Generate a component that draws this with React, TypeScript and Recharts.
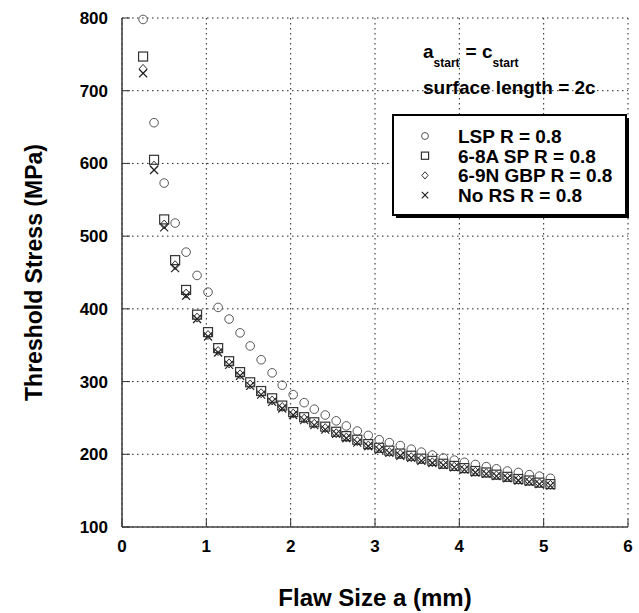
import React from "react";
import {
  ScatterChart,
  Scatter,
  XAxis,
  YAxis,
  CartesianGrid,
} from "recharts";

// flaw size a (mm), shared by every series
const flawSize = [
  0.25, 0.38, 0.5, 0.63, 0.76, 0.89, 1.02, 1.14, 1.27, 1.4, 1.52, 1.65, 1.78,
  1.9, 2.03, 2.16, 2.28, 2.41, 2.54, 2.66, 2.79, 2.92, 3.05, 3.17, 3.3, 3.43,
  3.55, 3.68, 3.81, 3.94, 4.06, 4.19, 4.32, 4.44, 4.57, 4.7, 4.83, 4.95, 5.08,
];

// threshold stress (MPa)
const lsp = [
  798, 656, 573, 518, 478, 446, 423, 402, 386, 367, 349, 330, 312, 295, 282,
  271, 262, 254, 246, 239, 232, 226, 220, 216, 212, 207, 203, 199, 195, 192,
  189, 186, 183, 180, 177, 175, 172, 170, 167,
];
const sp68a = [
  747, 605, 523, 467, 426, 392, 368, 346, 328, 313, 299, 287, 277, 267, 258,
  251, 244, 238, 231, 225, 220, 214, 209, 205, 201, 198, 194, 191, 187, 184,
  181, 177, 175, 172, 169, 166, 164, 161, 159,
];
const gbp69n = [
  730, 597, 516, 460, 421, 388, 364, 342, 325, 310, 296, 284, 274, 265, 256,
  249, 242, 236, 229, 223, 218, 212, 208, 203, 200, 196, 193, 189, 186, 183,
  180, 176, 174, 171, 168, 165, 163, 160, 158,
];
const noRs = [
  724, 591, 512, 456, 418, 386, 362, 340, 323, 308, 294, 282, 272, 263, 254,
  247, 240, 234, 228, 222, 216, 211, 206, 202, 198, 195, 191, 188, 185, 182,
  179, 175, 173, 170, 167, 164, 162, 159, 157,
];

const xTicks = [0, 1, 2, 3, 4, 5, 6];
const yTicks = [100, 200, 300, 400, 500, 600, 700, 800];

const legendItems = [
  { label: "LSP R = 0.8", symbol: "circle" },
  { label: "6-8A SP R = 0.8", symbol: "square" },
  { label: "6-9N GBP R = 0.8", symbol: "diamond" },
  { label: "No RS R = 0.8", symbol: "cross" },
];

const toPoints = (ys: number[]) => flawSize.map((x, i) => ({ x, y: ys[i] }));

const FONT = "'Liberation Sans', Arial, Helvetica, sans-serif";

function Marker({ kind, cx, cy, s = 1 }: { kind: string; cx: number; cy: number; s?: number }) {
  if (kind === "circle")
    return <circle cx={cx} cy={cy} r={4.3 * s} fill="none" stroke="#555" strokeWidth={1} />;
  if (kind === "square")
    return (
      <rect x={cx - 4.5 * s} y={cy - 4.5 * s} width={9 * s} height={9 * s} fill="#fff" stroke="#333" strokeWidth={1.2} />
    );
  if (kind === "diamond")
    return (
      <polygon
        points={`${cx},${cy - 4.5 * s} ${cx + 4 * s},${cy} ${cx},${cy + 4.5 * s} ${cx - 4 * s},${cy}`}
        fill="none"
        stroke="#333"
        strokeWidth={1}
      />
    );
  return (
    <g stroke="#222" strokeWidth={1.2}>
      <line x1={cx - 4 * s} y1={cy - 4 * s} x2={cx + 4 * s} y2={cy + 4 * s} />
      <line x1={cx - 4 * s} y1={cy + 4 * s} x2={cx + 4 * s} y2={cy - 4 * s} />
    </g>
  );
}

const shapeOf = (kind: string) => (p: any) => <Marker kind={kind} cx={p.cx} cy={p.cy} />;

export default function App() {
  const tickStyle = { fontSize: 17, fontWeight: "bold", fill: "#000", fontFamily: FONT };
  const axisLine = { stroke: "#444", strokeWidth: 1.6 };
  return (
    <div style={{ position: "absolute", left: 0, top: 0, width: 639, height: 613, background: "#fff" }}>
      <ScatterChart
        width={639}
        height={613}
        margin={{ top: 18, right: 11, bottom: 0, left: 0 }}
        style={{ fontFamily: FONT }}
      >
        <CartesianGrid stroke="#222" strokeDasharray="1.5 3.5" />
        <XAxis
          type="number"
          dataKey="x"
          domain={[0, 6]}
          ticks={xTicks}
          height={86}
          tickSize={-8}
          tickMargin={21}
          tick={tickStyle}
          axisLine={axisLine}
          tickLine={{ stroke: "#333" }}
          label={{
            content: (props: any) => {
              const vb = props.viewBox;
              return (
                <text
                  x={vb.x + vb.width / 2}
                  y={vb.y + 79}
                  textAnchor="middle"
                  fontSize={24}
                  fontWeight="bold"
                  fontFamily={FONT}
                  fill="#000"
                >
                  Flaw Size a (mm)
                </text>
              );
            },
          }}
        />
        <XAxis
          xAxisId="top"
          orientation="top"
          type="number"
          domain={[0, 6]}
          ticks={xTicks}
          height={0}
          tickSize={-8}
          tick={false}
          axisLine={axisLine}
          tickLine={{ stroke: "#333" }}
        />
        <YAxis
          type="number"
          dataKey="y"
          domain={[100, 800]}
          ticks={yTicks}
          width={122}
          tickSize={-8}
          tickMargin={22}
          tick={tickStyle}
          axisLine={axisLine}
          tickLine={{ stroke: "#333" }}
          label={{
            content: (props: any) => {
              const vb = props.viewBox;
              const cx = vb.x + 34;
              const cy = vb.y + vb.height / 2;
              return (
                <text
                  x={cx}
                  y={cy}
                  transform={`rotate(-90 ${cx} ${cy})`}
                  textAnchor="middle"
                  dominantBaseline="central"
                  fontSize={23}
                  fontWeight="bold"
                  fontFamily={FONT}
                  fill="#000"
                >
                  Threshold Stress (MPa)
                </text>
              );
            },
          }}
        />
        <YAxis
          yAxisId="right"
          orientation="right"
          type="number"
          domain={[100, 800]}
          ticks={yTicks}
          width={0}
          tickSize={-8}
          tick={false}
          axisLine={axisLine}
          tickLine={{ stroke: "#333" }}
        />
        <Scatter name="LSP R = 0.8" data={toPoints(lsp)} shape={shapeOf("circle")} isAnimationActive={false} />
        <Scatter name="6-8A SP R = 0.8" data={toPoints(sp68a)} shape={shapeOf("square")} isAnimationActive={false} />
        <Scatter name="6-9N GBP R = 0.8" data={toPoints(gbp69n)} shape={shapeOf("diamond")} isAnimationActive={false} />
        <Scatter name="No RS R = 0.8" data={toPoints(noRs)} shape={shapeOf("cross")} isAnimationActive={false} />
      </ScatterChart>

      {/* annotation + legend box drawn over the plot */}
      <svg
        width={639}
        height={613}
        style={{ position: "absolute", left: 0, top: 0, pointerEvents: "none" }}
        fontFamily={FONT}
        fontWeight="bold"
      >
        <text x={423} y={58} fontSize={19} fill="#000">
          a
          <tspan fontSize={12} dy={9}>start</tspan>
          <tspan fontSize={19} dy={-9} dx={6}>= c</tspan>
          <tspan fontSize={12} dy={9}>start</tspan>
        </text>
        <text x={423} y={94} fontSize={19} fill="#000">
          surface length = 2c
        </text>

        <rect x={396} y={118} width={233} height={100} fill="#000" />
        <rect x={393} y={115} width={233} height={100} fill="#fff" stroke="#000" strokeWidth={2} />
        {legendItems.map((item, i) => (
          <g key={item.label}>
            <Marker kind={item.symbol} cx={425} cy={136 + i * 19.7} s={0.8} />
            <text x={458} y={143 + i * 19.7} fontSize={19} fill="#000">
              {item.label}
            </text>
          </g>
        ))}
      </svg>
    </div>
  );
}
